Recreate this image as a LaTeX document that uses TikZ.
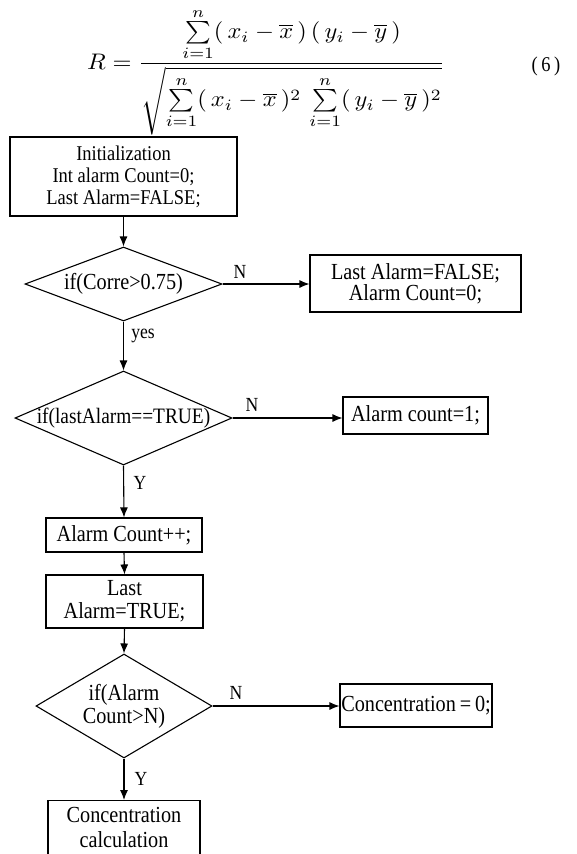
\documentclass[tikz,border=0pt]{standalone}
\usepackage{amsmath}
\usepackage{graphicx}
\usepackage{fontspec}
\setmainfont{Liberation Serif}[FakeStretch=0.88]
\usetikzlibrary{shapes.geometric,arrows.meta}
\begin{document}
\begin{tikzpicture}[x=1pt,y=-1pt,
  box/.style={draw, line width=1.1pt, inner sep=0pt, align=center, font=\fontsize{23}{23}\selectfont},
  dia/.style={draw, diamond, line width=1.1pt, inner sep=0pt},
  txt/.style={align=center, font=\fontsize{23}{23}\selectfont, inner sep=0pt},
  arr/.style={line width=1.1pt, -{Latex[length=10pt,width=8pt]}},
  lbl/.style={font=\fontsize{20}{20}\selectfont, inner sep=0pt}]
\clip (0,0) rectangle (577,854);
\fill[white] (0,0) rectangle (577,854);

% equation
\node[anchor=base west, inner sep=0pt] (eq) at (87,69.5)
 {\scalebox{2.44}[2.25]{$\displaystyle R = \frac{\sum\limits_{i=1}^{n}(\,x_i-\overline{x}\,)\,(\,y_i-\overline{y}\,)}{\sqrt{\sum\limits_{i=1}^{n}(\,x_i-\overline{x}\,)^2\,\sum\limits_{i=1}^{n}(\,y_i-\overline{y}\,)^2}}$}};
\node[font=\fontsize{21}{22}\selectfont, inner sep=0pt] (eqno) at (546,66) {(\,6\,)};

% boxes
\node[box, font=\fontsize{21}{22}\selectfont, minimum width=227pt, minimum height=79pt] (init) at (123.5,176.5)
  {Initialization\\ Int alarm Count=0;\\ Last Alarm=FALSE;};
\node[dia, minimum width=197pt, minimum height=74pt] (d1) at (123.5,284) {};
\node[txt] (d1t) at (d1) {if(Corre>0.75)};
\node[box, font=\fontsize{23}{21}\selectfont, minimum width=211pt, minimum height=57pt] (boxA) at (415.5,283.5)
  {Last Alarm=FALSE;\\ Alarm Count=0;};
\node[dia, minimum width=217pt, minimum height=94pt] (d2) at (123.5,418) {};
\node[txt, font=\fontsize{22}{22}\selectfont] (d2t) at (d2) {if(lastAlarm==TRUE)};
\node[box, minimum width=145pt, minimum height=37pt] (boxB) at (415.5,415.5) {Alarm count=1;};
\node[box, minimum width=156pt, minimum height=34pt] (boxC) at (124,535) {Alarm Count++;};
\node[box, minimum width=157pt, minimum height=53pt] (boxD) at (124.5,601.5) {Last\\ Alarm=TRUE;};
\node[dia, minimum width=176pt, minimum height=104pt] (d3) at (124,706) {};
\node[txt] (d3t) at (d3) {if(Alarm\\ Count>N)};
\node[box, minimum width=152pt, minimum height=43pt] (boxE) at (416,705.5) {Concentration\,=\,0;};
\node[draw, line width=1.1pt, minimum width=152pt, minimum height=90pt, anchor=north, inner sep=0pt] (boxF) at (124,800) {};
\node[txt, font=\fontsize{23}{25}\selectfont] (boxFt) at (124,827) {Concentration\\ calculation};

% connectors
\draw[arr] (init.south) -- (d1.north);
\draw[arr] (d1.east) -- (d1.east -| boxA.west);
\draw[arr] (d1.south) -- (d2.north);
\draw[arr] (d2.east) -- (d2.east -| boxB.west);
\draw[arr] (d2.south) -- (boxC.north);
\draw[arr] (boxC.south) -- (boxD.north);
\draw[arr] (boxD.south) -- (d3.north);
\draw[arr] (d3.east) -- (d3.east -| boxE.west);
\draw[arr] (d3.south) -- (boxF.north);

% labels
\node[lbl] (l1) at (240,272) {N};
\node[lbl] (l2) at (143,336) {yes};
\node[lbl] (l3) at (252,405) {N};
\node[lbl] (l4) at (140,483) {Y};
\node[lbl] (l5) at (236,693) {N};
\node[lbl] (l6) at (141,779) {Y};
\end{tikzpicture}
\end{document}
